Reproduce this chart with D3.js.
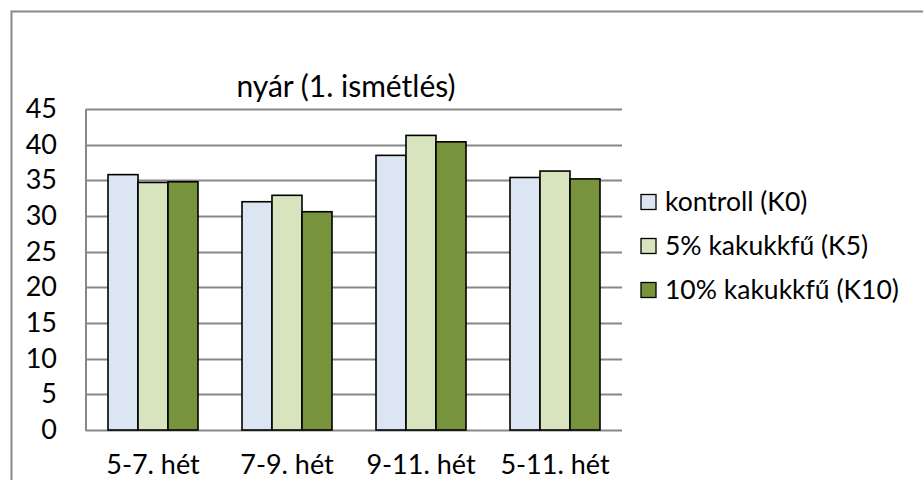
<!DOCTYPE html>
<html><head><meta charset="utf-8">
<script src="https://cdn.jsdelivr.net/npm/d3@7"></script>
<style>body{margin:0;background:#fff}svg{display:block}text{font-family:Lato,"Open Sans",sans-serif;fill:#000}</style>
</head><body><svg id="c" width="923" height="480"></svg>
<script>
const categories = ["5-7. hét", "7-9. hét", "9-11. hét", "5-11. hét"];
const seriesNames = ["kontroll (K0)", "5% kakukkfű (K5)", "10% kakukkfű (K10)"];
const kontroll = [35.8, 32.0, 38.5, 35.4];
const k5 = [34.7, 32.9, 41.3, 36.3];
const k10 = [34.8, 30.6, 40.4, 35.2];
const yTicks = [0, 5, 10, 15, 20, 25, 30, 35, 40, 45];
const title = "nyár (1. ismétlés)";
const colors = ["#DCE6F2", "#D7E4BD", "#77933C"];

const series = [kontroll, k5, k10];
const svg = d3.select("#c");
// outer frame
svg.append("path").attr("d", "M923,11.5 H11.5 V480").attr("fill", "none").attr("stroke", "#888").attr("stroke-width", 2);

const L = 86, R = 622, T = 109, B = 430;
const y = d3.scaleLinear().domain([0, 45]).range([B, T]);
const x0 = d3.scaleBand().domain(categories).range([L, R]).paddingInner(0.3284).paddingOuter(0.1642);
const x1 = d3.scaleBand().domain(d3.range(3)).range([0, x0.bandwidth()]);

// gridlines
svg.append("g").selectAll("line").data(yTicks).join("line")
  .attr("x1", L).attr("x2", R).attr("y1", d => Math.round(y(d)) + 0.5).attr("y2", d => Math.round(y(d)) + 0.5)
  .attr("stroke", "#888").attr("stroke-width", 2);
// y axis line
svg.append("line").attr("x1", L).attr("x2", L).attr("y1", T).attr("y2", B + 1).attr("stroke", "#888").attr("stroke-width", 2);

// y axis labels
const yAxis = d3.axisLeft(y).tickValues(yTicks).tickSize(0).tickPadding(29);
const ya = svg.append("g").attr("transform", `translate(${L},0)`).call(yAxis);
ya.select(".domain").remove();
ya.selectAll("text").attr("font-size", 27).attr("font-family", "Lato").attr("fill", "#000");

// bars
const g = svg.append("g");
categories.forEach((c, i) => {
  series.forEach((s, j) => {
    g.append("rect")
      .attr("x", x0(c) + x1(j))
      .attr("y", y(s[i]))
      .attr("width", x1.bandwidth())
      .attr("height", y(0) - y(s[i]))
      .attr("fill", colors[j]).attr("stroke", "#000").attr("stroke-width", 1.6);
  });
});

// x labels
const xAxis = d3.axisBottom(x0).tickSize(0).tickPadding(25);
const xa = svg.append("g").attr("transform", `translate(0,${B})`).call(xAxis);
xa.select(".domain").remove();
xa.selectAll("text").attr("font-size", 27).attr("font-family", "Lato").attr("fill", "#000");

// title
svg.append("text").attr("x", 346).attr("y", 97).attr("text-anchor", "middle").attr("font-size", 30).text(title);

// legend
const lg = svg.append("g").selectAll("g").data(seriesNames).join("g")
  .attr("transform", (d, i) => `translate(641,${202 + i * 44})`);
lg.append("rect").attr("x", 0).attr("y", -7.5).attr("width", 15).attr("height", 15)
  .attr("fill", (d, i) => colors[i]).attr("stroke", "#000").attr("stroke-width", 1.3);
lg.append("text").attr("x", 24).attr("y", 0).attr("dy", "0.35em").attr("font-size", 26.5).text(d => d);
</script></body></html>
